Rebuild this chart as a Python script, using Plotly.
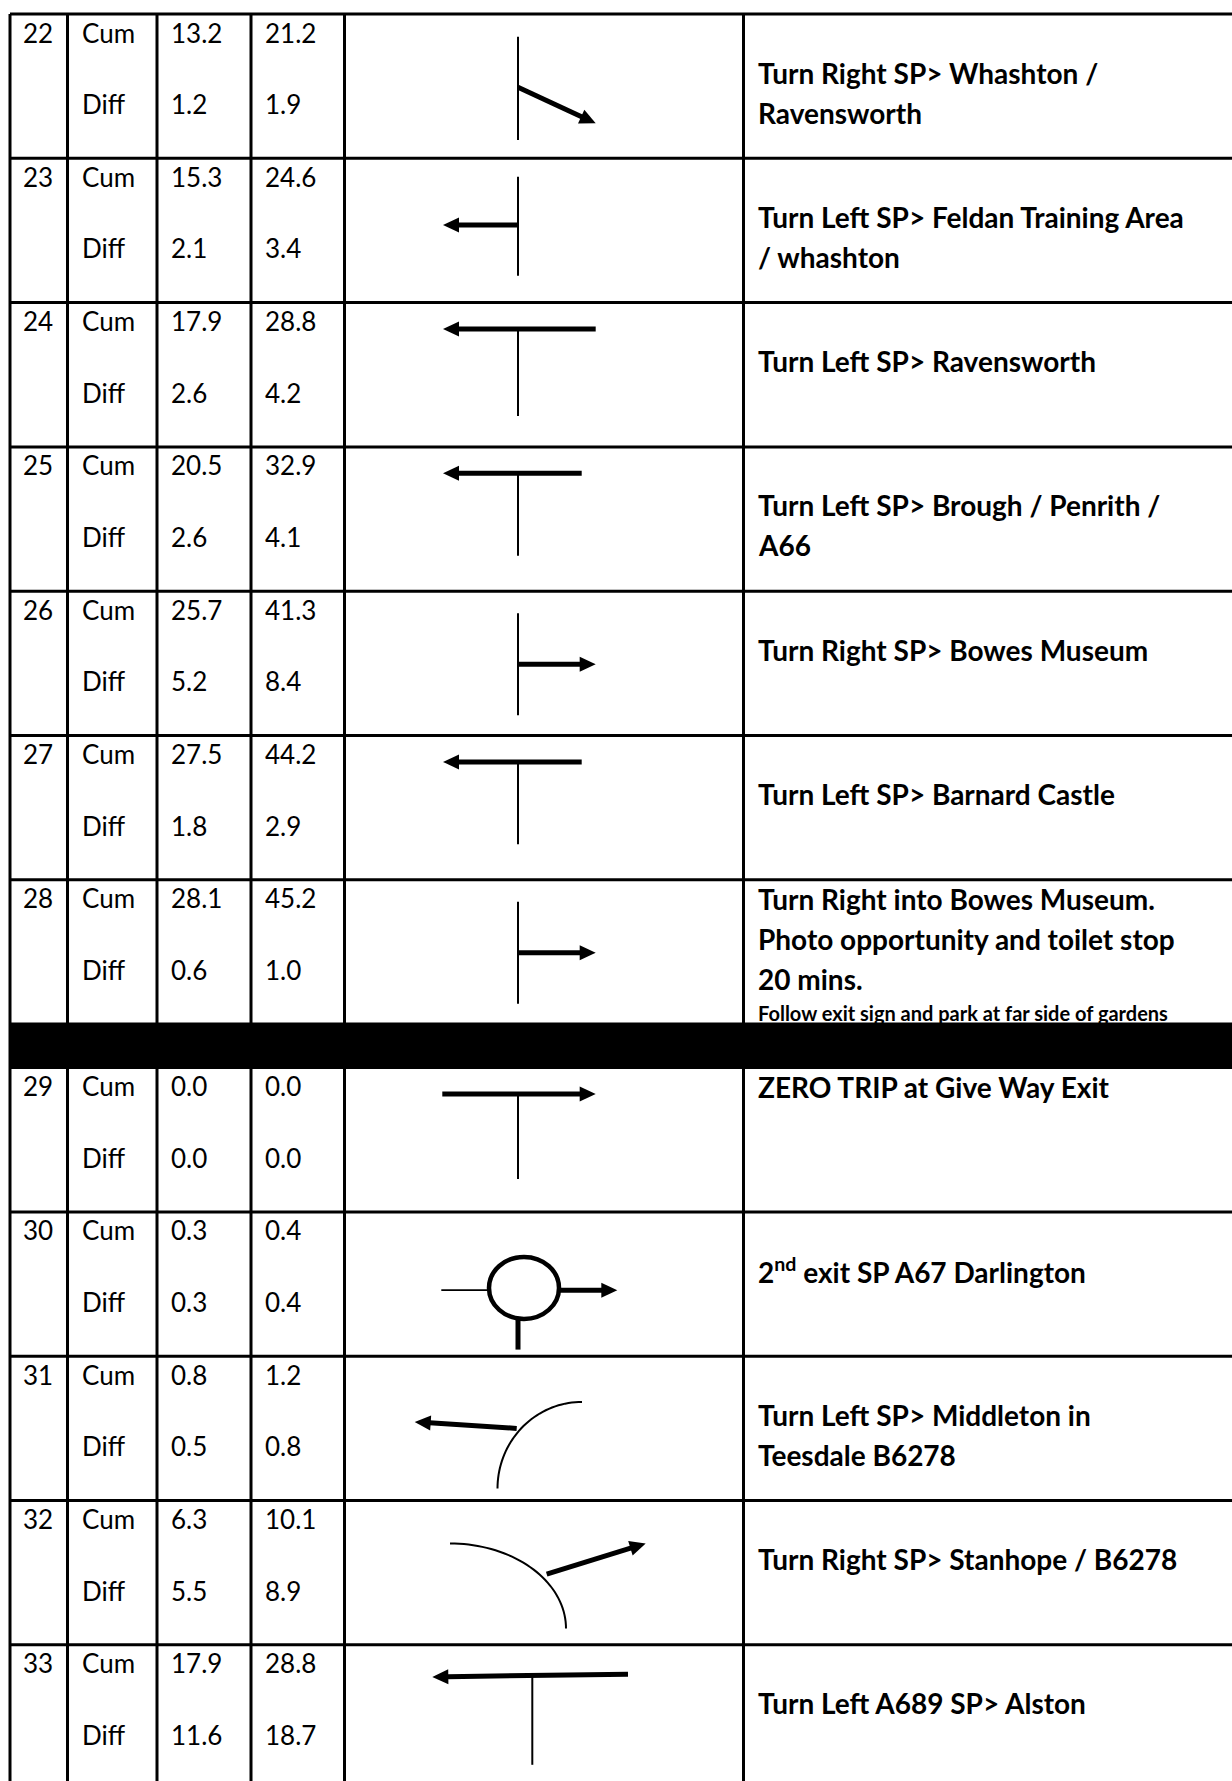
import numpy as np
import plotly.graph_objects as go

# ---------------- data ----------------
step_no = [22, 23, 24, 25, 26, 27, 28, 29, 30, 31, 32, 33]
row_labels = ["Cum", "Diff"]
cum_miles = [13.2, 15.3, 17.9, 20.5, 25.7, 27.5, 28.1, 0.0, 0.3, 0.8, 6.3, 17.9]
cum_km = [21.2, 24.6, 28.8, 32.9, 41.3, 44.2, 45.2, 0.0, 0.4, 1.2, 10.1, 28.8]
diff_miles = [1.2, 2.1, 2.6, 2.6, 5.2, 1.8, 0.6, 0.0, 0.3, 0.5, 5.5, 11.6]
diff_km = [1.9, 3.4, 4.2, 4.1, 8.4, 2.9, 1.0, 0.0, 0.4, 0.8, 8.9, 18.7]
instructions = [
    "Turn Right SP> Whashton /\nRavensworth",
    "Turn Left SP> Feldan Training Area\n/ whashton",
    "Turn Left SP> Ravensworth",
    "Turn Left SP> Brough / Penrith /\nA66",
    "Turn Right SP> Bowes Museum",
    "Turn Left SP> Barnard Castle",
    "Turn Right into Bowes Museum.\nPhoto opportunity and toilet stop\n20 mins.",
    "ZERO TRIP at Give Way Exit",
    "2<sup>nd</sup> exit SP A67 Darlington",
    "Turn Left SP> Middleton in\nTeesdale B6278",
    "Turn Right SP> Stanhope / B6278",
    "Turn Left A689 SP> Alston",
]
notes = ["", "", "", "", "", "", "Follow exit sign and park at far side of gardens",
         "", "", "", "", ""]
junctions = ["side_right_down", "side_left", "tee_left", "tee_left_short",
             "side_right", "tee_left_short", "side_right", "tee_right",
             "roundabout_2nd", "bend_left", "bend_right", "tee_left_offset"]
top_aligned_steps = [28, 29]
break_after_step = 28

# ---------------- layout constants ----------------
W, H = 1232, 1781
TOP = 14
ROW_H = 144.3
BAR_H = 43.5
COLS = [10, 67.5, 157, 251, 344.5, 743.5]
FONT = "Lato"
FS = 26
FS_BOLD = 28
FS_NOTE = 20
LINE_C = "black"

shapes = []
annotations = []


def line(x0, y0, x1, y1, w=3):
    shapes.append(dict(type="line", x0=x0, y0=y0, x1=x1, y1=y1, xref="x", yref="y",
                       line=dict(color=LINE_C, width=w)))


def arrow(x0, y0, x1, y1, w=5, hl=16, hw=7.5):
    d = np.array([x1 - x0, y1 - y0], dtype=float)
    L = np.hypot(*d)
    u = d / L
    n = np.array([-u[1], u[0]])
    base = np.array([x1, y1]) - u * hl
    line(x0, y0, base[0] + u[0] * 1, base[1] + u[1] * 1, w)
    p1 = base + n * hw
    p2 = base - n * hw
    shapes.append(dict(type="path", xref="x", yref="y",
                       path=f"M {x1},{y1} L {p1[0]},{p1[1]} L {p2[0]},{p2[1]} Z",
                       fillcolor=LINE_C, line=dict(width=0)))


def arc(cx, cy, rx, ry, a0, a1, w=2):
    t = np.linspace(np.radians(a0), np.radians(a1), 40)
    xs = cx + rx * np.cos(t)
    ys = cy - ry * np.sin(t)
    p = "M " + " L ".join(f"{a:.2f},{b:.2f}" for a, b in zip(xs, ys))
    shapes.append(dict(type="path", xref="x", yref="y", path=p,
                       line=dict(color=LINE_C, width=w)))


def draw_junction(kind, t):
    if kind == "side_right_down":
        line(518, t + 22.7, 518, t + 126, 2)
        arrow(518, t + 73.3, 595.7, t + 109.3)
    elif kind == "side_left":
        line(518, t + 18.4, 518, t + 117.4, 2)
        arrow(518, t + 66.7, 443, t + 66.7)
    elif kind == "tee_left":
        arrow(595.7, t + 26.4, 443, t + 26.4)
        line(518, t + 28, 518, t + 113.4, 2)
    elif kind == "tee_left_short":
        arrow(581.7, t + 26.4, 443, t + 26.4)
        line(518, t + 28, 518, t + 108.8, 2)
    elif kind == "side_right":
        line(518, t + 22, 518, t + 124, 2)
        arrow(518, t + 73, 595.7, t + 73)
    elif kind == "tee_right":
        arrow(442.3, t + 26.3, 595.7, t + 26.3)
        line(518, t + 28, 518, t + 111.3, 2)
    elif kind == "roundabout_2nd":
        cx, cy, rx, ry = 524, t + 76, 35, 31
        shapes.append(dict(type="circle", xref="x", yref="y", x0=cx - rx, x1=cx + rx,
                           y0=cy - ry, y1=cy + ry, line=dict(color=LINE_C, width=4.5)))
        line(441.3, t + 78.3, cx - rx, t + 78.3, 1.8)
        arrow(cx + rx, t + 78.3, 617.3, t + 78.3)
        line(518, cy + ry, 518, t + 137.7, 5)
    elif kind == "bend_left":
        arc(582, t + 132.4, 84.5, 86.7, 90, 180, 2)
        arrow(516.7, t + 72.2, 414.7, t + 65.7)
    elif kind == "bend_right":
        arc(450, t + 128, 116, 85, 0, 90, 2)
        arrow(546.7, t + 73.7, 645.7, t + 43)
    elif kind == "tee_left_offset":
        arrow(628, t + 29.4, 432.3, t + 32.1)
        line(532.3, t + 31, 532.3, t + 120, 2)


def txt(x, y, s, size=FS, bold=False):
    annotations.append(dict(x=x, y=y, xref="x", yref="y", text=f"<b>{s}</b>" if bold else s,
                            showarrow=False, xanchor="left", yanchor="middle",
                            font=dict(family=FONT, size=size, color="black")))


# row tops
row_tops = []
y = TOP
for s in step_no:
    row_tops.append(y)
    y += ROW_H
    if s == break_after_step:
        bar_top = y
        y += BAR_H

# table grid
line(COLS[0], TOP, W, TOP)
for t in row_tops[1:]:
    line(COLS[0], t, W, t)
line(COLS[0], bar_top, W, bar_top)
shapes.append(dict(type="rect", xref="x", yref="y", x0=COLS[0], x1=W, y0=bar_top,
                   y1=bar_top + BAR_H, fillcolor="black", line=dict(width=0)))
for c in COLS:
    line(c, TOP, c, H + 5)

# contents
for i, s in enumerate(step_no):
    t = row_tops[i]
    txt(21, t + 18.5, str(s))
    txt(80, t + 18.5, row_labels[0])
    txt(80, t + 90, row_labels[1])
    txt(169, t + 18.5, f"{cum_miles[i]:.1f}")
    txt(169, t + 90, f"{diff_miles[i]:.1f}")
    txt(263, t + 18.5, f"{cum_km[i]:.1f}")
    txt(263, t + 90, f"{diff_km[i]:.1f}")
    first = t + (19.5 if s in top_aligned_steps else 58.5)
    lines_i = instructions[i].split("\n")
    for k, ln in enumerate(lines_i):
        txt(756, first + k * 40, ln, size=FS_BOLD, bold=True)
    if notes[i]:
        txt(756, first + (len(lines_i) - 1) * 40 + 33.5, notes[i], size=FS_NOTE, bold=True)
    draw_junction(junctions[i], t)

fig = go.Figure()
fig.update_layout(
    width=W, height=H, margin=dict(l=0, r=0, t=0, b=0),
    paper_bgcolor="white", plot_bgcolor="white",
    xaxis=dict(range=[0, W], visible=False, fixedrange=True),
    yaxis=dict(range=[H, 0], visible=False, fixedrange=True),
    shapes=shapes, annotations=annotations, showlegend=False,
)
fig.write_html("out.html", config={"displayModeBar": False, "staticPlot": True},
               post_script="document.body.style.margin='0';document.body.style.overflow='hidden';")
